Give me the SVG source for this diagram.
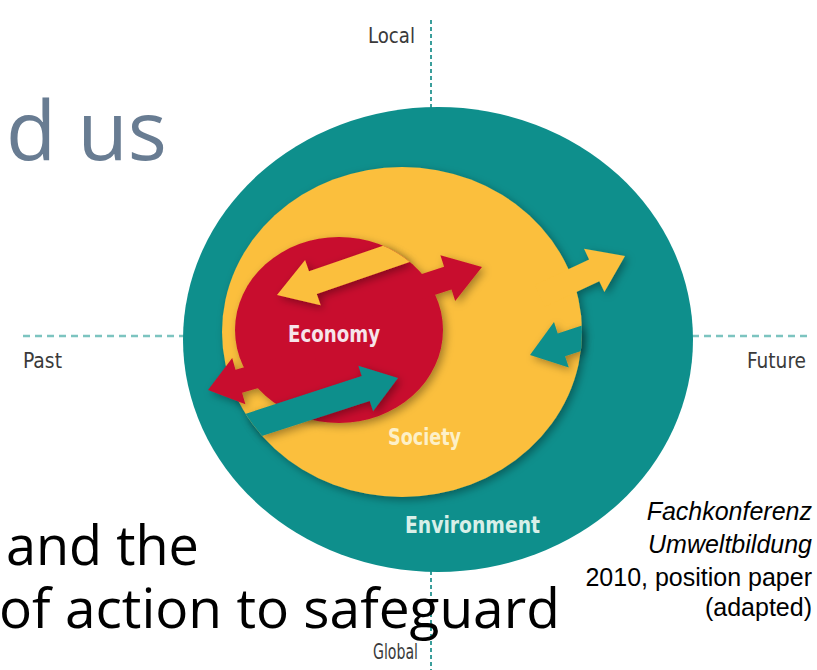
<svg xmlns="http://www.w3.org/2000/svg" width="817" height="670" viewBox="0 0 817 670">
<style>
.lbl{font-family:'Liberation Sans Narrow','DejaVu Sans Condensed','Liberation Sans',sans-serif;font-size:22px;fill:#3a3a3a}
.in{font-family:'Liberation Sans Narrow','DejaVu Sans Condensed','Liberation Sans',sans-serif;font-size:23px;font-weight:bold}
.big{font-family:'Open Sans','Noto Sans',sans-serif;fill:#000}
.cite{font-family:'Liberation Sans',Arial,sans-serif;font-size:25px;fill:#000;text-anchor:end}
.dh{stroke:#7cc4c0;stroke-width:2.5;stroke-dasharray:7 5;fill:none}
.dv{stroke:#3a9e9b;stroke-width:2;stroke-dasharray:4 3;fill:none}
.teal{fill:#0e8f8c}.yel{fill:#fbbf3c}.red{fill:#c8102e}
</style>
<defs>
<filter id="sh" x="-20%" y="-20%" width="140%" height="140%">
<feDropShadow dx="3" dy="3" stdDeviation="4" flood-color="#000" flood-opacity="0.35"/>
</filter>
<clipPath id="cy"><ellipse cx="402" cy="332" rx="180" ry="165"/></clipPath>
<clipPath id="cr"><ellipse cx="339" cy="330" rx="104" ry="93"/></clipPath>
</defs>

<text class="big" x="6" y="160" font-size="82" style="fill:#687c92">d us</text>

<g id="connectors">
<line class="dv" x1="431" y1="20" x2="431" y2="108"/>
<line class="dv" x1="431" y1="571" x2="431" y2="670"/>
<line class="dh" x1="23" y1="336" x2="184" y2="336"/>
<line class="dh" x1="692" y1="336" x2="808" y2="336"/>
</g>

<g id="environment">
<ellipse class="teal" cx="438" cy="339.5" rx="255" ry="232.5"/>
</g>

<g id="society" filter="url(#sh)">
<ellipse class="yel" cx="402" cy="332" rx="180" ry="165"/>
<polygon class="yel" points="625,256 584,248.7 589.1,259.5 534.7,284.9 544.9,306.7 599.3,281.3 604.4,292.1"/>
</g>

<g id="arrow-env-in" filter="url(#sh)">
<polygon class="teal" clip-path="url(#cy)" points="530,355 554,322 557.7,333.4 633.8,308.7 641.2,331.5 565.1,356.2 568.8,367.6"/>
</g>

<g id="economy" filter="url(#sh)">
<ellipse class="red" cx="339" cy="330" rx="104" ry="93"/>
<polygon class="red" points="482,267 440.4,255.3 444.1,266.7 339.5,300.7 346.9,323.5 451.5,289.5 455.2,300.9"/>
<polygon class="red" points="208,390 245.4,404.3 242.1,392.7 319,370.6 312.4,347.6 235.5,369.7 232.2,358.1"/>
</g>

<g id="arrow-soc-in" filter="url(#sh)">
<polygon class="yel" clip-path="url(#cr)" points="277,295 320.7,305.3 316.8,294 444.5,249.9 436.7,227.3 309,271.2 305.1,259.9"/>
</g>

<g id="arrow-env-econ" filter="url(#sh)">
<polygon class="teal" clip-path="url(#cy)" points="398,378 358.3,365.7 361.7,376.1 171.5,437.9 179.5,462.7 369.7,400.9 373.1,411.3"/>
</g>

<text class="in" x="288" y="342" textLength="92" lengthAdjust="spacingAndGlyphs" fill="#f6e4ea">Economy</text>
<text class="in" x="388" y="445" textLength="73" lengthAdjust="spacingAndGlyphs" fill="#fdf0c8">Society</text>
<text class="in" x="405" y="533" textLength="135" lengthAdjust="spacingAndGlyphs" fill="#d8efe8">Environment</text>

<text class="lbl" x="368" y="43" textLength="47" lengthAdjust="spacingAndGlyphs">Local</text>
<text class="lbl" x="23" y="368" textLength="39" lengthAdjust="spacingAndGlyphs">Past</text>
<text class="lbl" x="747" y="368" textLength="59" lengthAdjust="spacingAndGlyphs">Future</text>
<text class="lbl" x="373" y="659" textLength="45" lengthAdjust="spacingAndGlyphs">Global</text>

<text class="big" x="6" y="565" font-size="54">and the</text>
<text class="big" x="-1" y="628" font-size="55">of action to safeguard</text>

<text class="cite" x="812" y="520" font-style="italic">Fachkonferenz</text>
<text class="cite" x="812" y="553" font-style="italic">Umweltbildung</text>
<text class="cite" x="812" y="586">2010, position paper</text>
<text class="cite" x="812" y="616">(adapted)</text>
</svg>
